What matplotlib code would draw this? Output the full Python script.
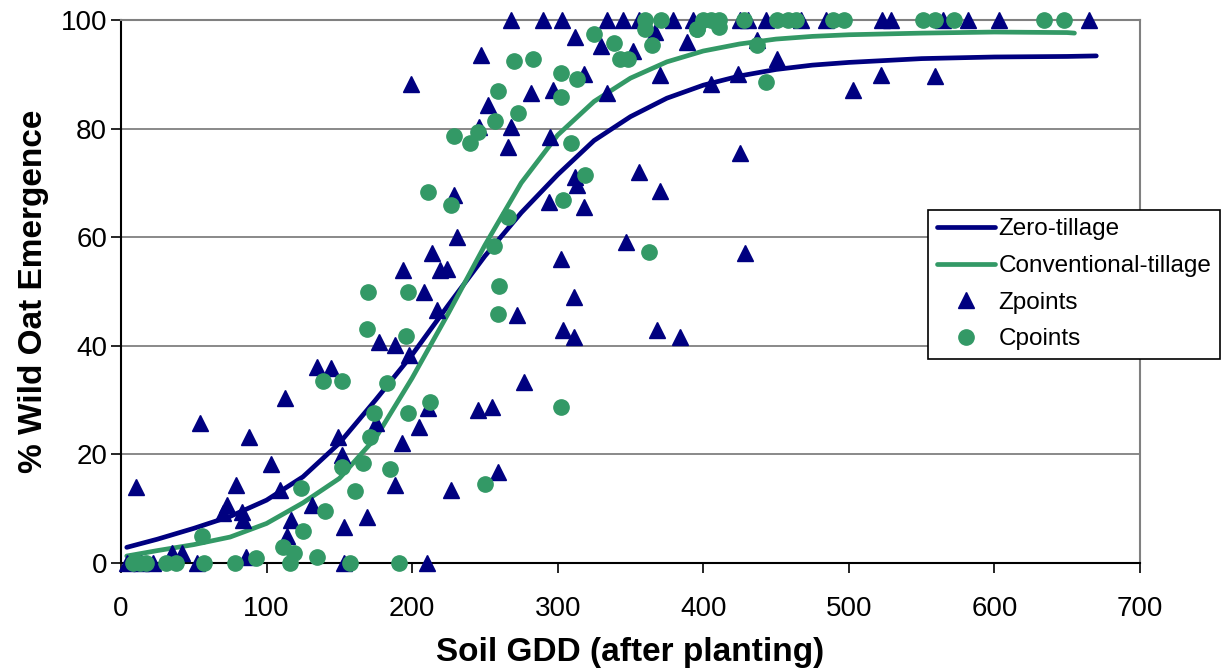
import numpy as np
import matplotlib
matplotlib.use("Agg")
import matplotlib.pyplot as plt

plt.rcParams['font.family'] = ['Liberation Sans', 'DejaVu Sans']

# fitted curves
curve_gdd = [4, 25, 50, 75, 100, 125, 150, 175, 200, 225, 250, 275, 300, 325, 350,
             375, 400, 425, 450, 475, 500, 550, 600, 650, 670]
zero_curve = [2.8, 4.3, 6.3, 8.5, 11.5, 15.8, 22.0, 30.0, 38.3, 47.5, 56.5, 64.5, 71.5,
              77.8, 82.2, 85.6, 88.0, 89.7, 90.9, 91.7, 92.2, 92.9, 93.2, 93.3, 93.4]
conv_gdd = curve_gdd[:-1] + [655]
conv_curve = [1.2, 2.2, 3.3, 4.7, 7.2, 11.0, 15.5, 23.0, 34.0, 46.0, 58.5, 70.0, 78.8,
              85.0, 89.3, 92.3, 94.3, 95.6, 96.5, 97.0, 97.3, 97.6, 97.8, 97.7, 97.6]

# Zpoints (zero tillage observations)
z_gdd = [4, 10, 14, 22, 35, 42, 52, 54, 70, 73, 79, 83, 84, 86, 88, 103, 109, 113, 114,
         117, 131, 135, 144, 149, 152, 153, 153, 169, 175, 177, 188, 188, 193, 194, 198,
         199, 205, 208, 210, 211, 214, 217, 219, 224, 227, 229, 231, 245, 246, 247, 252,
         255, 259, 266, 268, 268, 272, 277, 282, 290, 294, 295, 297, 302, 303, 304, 311,
         311, 312, 312, 313, 318, 318, 330, 334, 334, 345, 347, 352, 356, 356, 367, 368,
         370, 370, 379, 384, 389, 393, 405, 424, 425, 425, 429, 431, 437, 443, 451, 467,
         484, 503, 522, 523, 529, 559, 565, 582, 603, 665]
z_pct = [0, 14, 0, 0, 1.7, 1.7, 0, 25.7, 9.1, 10.6, 14.3, 9.4, 7.8, 1, 23.2, 18.2, 13.4,
         30.3, 4.8, 7.8, 10.6, 36.1, 35.8, 23.2, 19.8, 6.6, 0, 8.4, 25.7, 40.7, 40.1, 14.3,
         22, 53.9, 38.2, 88.3, 25, 49.8, 0, 28.4, 57, 46.5, 53.9, 54.2, 13.4, 67.7, 60,
         28.2, 80.3, 93.5, 84.3, 28.6, 16.6, 76.6, 80.3, 100, 45.6, 33.3, 86.5, 100, 66.5,
         78.4, 87.1, 55.9, 100, 42.9, 49, 41.6, 96.9, 71.1, 69.6, 90, 65.6, 95.2, 86.5,
         100, 100, 59, 94.3, 72, 100, 97.8, 42.9, 89.9, 68.5, 100, 41.6, 96, 100, 88.3,
         90, 75.5, 100, 57, 100, 96.3, 100, 92.8, 100, 100, 87.1, 89.9, 100, 100, 89.7,
         100, 100, 100, 100]

# Cpoints (conventional tillage observations)
c_gdd = [8, 13, 17, 31, 38, 56, 57, 78, 93, 111, 116, 119, 124, 125, 135, 139, 140, 152,
         152, 157, 161, 166, 169, 170, 171, 174, 183, 185, 191, 196, 197, 197, 211, 212,
         227, 229, 240, 245, 250, 256, 257, 259, 259, 260, 266, 270, 273, 283, 302, 302,
         302, 304, 309, 313, 319, 325, 339, 343, 348, 360, 360, 363, 365, 371, 396, 396,
         400, 405, 411, 411, 428, 437, 443, 451, 458, 464, 489, 497, 551, 559, 572, 634, 648]
c_pct = [0, 0, 0, 0, 0, 4.8, 0, 0, 0.9, 2.9, 0, 1.7, 13.8, 5.9, 1.1, 33.5, 9.5, 33.5,
         17.7, 0, 13.2, 18.3, 43, 49.9, 23.2, 27.6, 33.1, 17.2, 0, 41.8, 49.9, 27.5, 68.4,
         29.6, 65.9, 78.6, 77.4, 79.4, 14.4, 58.3, 81.4, 86.9, 45.8, 51, 63.7, 92.5, 82.9,
         92.8, 90.3, 85.8, 28.7, 66.8, 77.4, 89.1, 71.4, 97.5, 95.7, 92.9, 92.9, 100, 98.3,
         57.3, 95.5, 100, 98.3, 98.3, 100, 100, 98.8, 100, 100, 95.4, 88.6, 100, 100, 100,
         100, 100, 100, 100, 100, 100, 100]

navy = '#000080'
green = '#339966'

fig = plt.figure(figsize=(12.28, 6.7), dpi=100)
ax = fig.add_axes([0.0985, 0.1604, 0.8298, 0.8096])

ax.set_xlim(0, 700)
ax.set_ylim(0, 100)
ax.set_xticks(range(0, 701, 100))
ax.set_yticks(range(0, 101, 20))

for yv in [20, 40, 60, 80]:
    ax.axhline(yv, color='#808080', lw=1.3, zorder=0)

ax.plot(curve_gdd, zero_curve, color=navy, lw=3.4, label='Zero-tillage', zorder=2,
        solid_capstyle='round', solid_joinstyle='round')
ax.plot(conv_gdd, conv_curve, color=green, lw=3.4, label='Conventional-tillage', zorder=2,
        solid_capstyle='round', solid_joinstyle='round')
ax.plot(z_gdd, z_pct, ls='none', marker='^', ms=11.5, color=navy, mec=navy,
        label='Zpoints', zorder=3, clip_on=False)
ax.plot(c_gdd, c_pct, ls='none', marker='o', ms=11, color=green, mec=green,
        label='Cpoints', zorder=4, clip_on=False)

for s in ['top', 'right']:
    ax.spines[s].set_color('#808080')
    ax.spines[s].set_linewidth(1.5)
for s in ['left', 'bottom']:
    ax.spines[s].set_color('black')
    ax.spines[s].set_linewidth(1.5)

ax.tick_params(axis='both', direction='out', length=7, width=1.2, labelsize=20)
ax.tick_params(axis='x', pad=17)
ax.tick_params(axis='y', pad=3)

ax.set_xlabel('Soil GDD (after planting)', fontsize=24, fontweight='bold', labelpad=11)
ax.set_ylabel('% Wild Oat Emergence', fontsize=24, fontweight='bold', labelpad=8)

leg = ax.legend(loc='upper left', bbox_to_anchor=(0.792, 0.65), borderaxespad=0,
                fontsize=17.5, handlelength=2.4, handletextpad=0.15, labelspacing=0.6,
                fancybox=False, framealpha=1, edgecolor='black', borderpad=0.35)
leg.get_frame().set_linewidth(1.2)
leg.set_zorder(10)

plt.savefig('out.png', dpi=100)
